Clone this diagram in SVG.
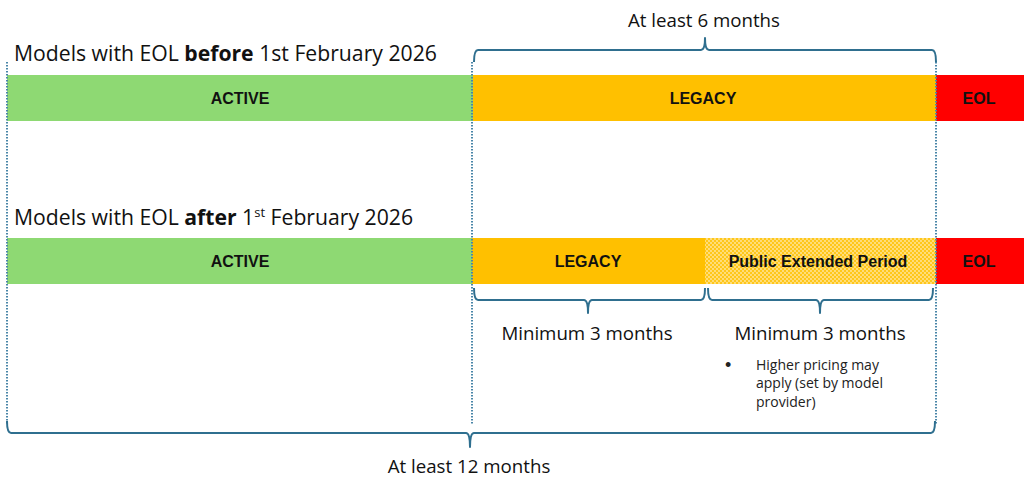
<svg xmlns="http://www.w3.org/2000/svg" width="1024" height="492" viewBox="0 0 1024 492">
<style>
.title{font-family:"Open Sans","Liberation Sans",sans-serif;font-size:21.2px;fill:#111}
.lbl{font-family:"Liberation Sans",Arial,sans-serif;font-size:16px;font-weight:bold;fill:#111;text-anchor:middle;dominant-baseline:central}
.dur{font-family:"Open Sans","Liberation Sans",sans-serif;font-size:18.7px;fill:#111;text-anchor:middle}
.note{font-family:"Open Sans","Liberation Sans",sans-serif;font-size:14px;fill:#222}
.bullet{font-family:"Liberation Sans",Arial,sans-serif;font-size:18px;fill:#222}
.brace{fill:none;stroke:#2F6F8F;stroke-width:2;stroke-linejoin:round}
.dot{stroke:#4A86A8;stroke-width:2;stroke-dasharray:1.5 1.5;fill:none}
</style>
<defs>
<pattern id="dots" width="4" height="4" patternUnits="userSpaceOnUse">
<rect width="4" height="4" fill="#FFC71A"/>
<circle cx="1" cy="1" r="0.9" fill="#FFE8A6"/>
<circle cx="3" cy="3" r="0.9" fill="#FFE8A6"/>
</pattern>
</defs>
<g id="row1">
<text class="title" x="14" y="61">Models with EOL <tspan font-weight="bold">before</tspan> 1st February 2026</text>
<g id="r1-active"><rect x="7" y="75" width="466" height="46" fill="#8ED973"/><text class="lbl" x="240" y="98">ACTIVE</text></g>
<g id="r1-legacy"><rect x="473" y="75" width="463" height="46" fill="#FFC000"/><text class="lbl" x="703" y="98">LEGACY</text></g>
<g id="r1-eol"><rect x="936" y="75" width="88" height="46" fill="#FF0000"/><text class="lbl" x="979" y="98">EOL</text></g>
</g>
<g id="row2">
<text class="title" x="14" y="225">Models with EOL <tspan font-weight="bold">after</tspan> 1<tspan font-size="13" dy="-8">st</tspan><tspan dy="8"> February 2026</tspan></text>
<g id="r2-active"><rect x="7" y="238" width="465" height="46" fill="#8ED973"/><text class="lbl" x="240" y="261">ACTIVE</text></g>
<g id="r2-legacy"><rect x="472" y="238" width="233" height="46" fill="#FFC000"/><text class="lbl" x="588" y="261">LEGACY</text></g>
<g id="r2-extended"><rect x="705" y="238" width="231" height="46" fill="url(#dots)"/><text class="lbl" x="818" y="261">Public Extended Period</text></g>
<g id="r2-eol"><rect x="936" y="238" width="88" height="46" fill="#FF0000"/><text class="lbl" x="979" y="261">EOL</text></g>
</g>
<g id="connectors">
<line class="dot" x1="7" y1="62" x2="7" y2="425"/>
<line class="dot" x1="472" y1="62" x2="472" y2="425"/>
<line class="dot" x1="936" y1="62" x2="936" y2="425"/>
<path class="brace" d="M474,62 Q474,50 478,50 L701,50 Q705,50 705,38 Q705,50 709,50 L932,50 Q936,50 936,62"/>
<path class="brace" d="M474,288 Q474,300 478,300 L584,300 Q588,300 588,313 Q588,300 592,300 L701,300 Q705,300 705,288"/>
<path class="brace" d="M708,288 Q708,300 712,300 L816,300 Q820,300 820,313 Q820,300 824,300 L929,300 Q933,300 933,288"/>
<path class="brace" d="M7,421 Q7,433 11,433 L466,433 Q470,433 470,447 Q470,433 474,433 L931,433 Q935,433 935,421"/>
</g>
<g id="labels">
<text class="dur" x="704" y="27">At least 6 months</text>
<text class="dur" x="587" y="340">Minimum 3 months</text>
<text class="dur" x="820" y="340">Minimum 3 months</text>
<g id="note">
<text class="bullet" x="725" y="371">•</text>
<text class="note" x="756" y="370">Higher pricing may</text>
<text class="note" x="756" y="388">apply (set by model</text>
<text class="note" x="756" y="407">provider)</text>
</g>
<text class="dur" x="469" y="473">At least 12 months</text>
</g>
</svg>
